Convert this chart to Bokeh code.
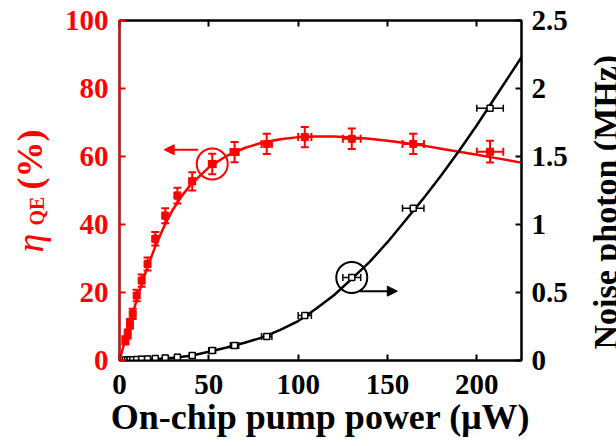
import math
from bokeh.plotting import figure
from bokeh.layouts import row
from bokeh.models import (Range1d, LinearAxis, FixedTicker, Label, Arrow, NormalHead,
                          Whisker, TeeHead, ColumnDataSource)
from bokeh.embed import file_html
from bokeh.resources import INLINE

# ---------------- data ----------------
power = [3.3, 4.6, 5.9, 7.4, 9.6, 12.4, 15.7, 20.0, 25.6, 32.4, 40.7, 51.9, 64.4, 82.4, 103.7, 130.0, 164.4, 207.4]
power_err = [0.2, 0.2, 0.3, 0.3, 0.4, 0.5, 0.6, 0.8, 1.0, 1.2, 1.5, 1.9, 2.3, 2.9, 3.7, 5.0, 6.0, 7.4]
eta = [5.9, 7.8, 10.8, 13.7, 19.1, 23.5, 28.4, 35.8, 42.6, 48.5, 52.7, 57.8, 61.3, 63.7, 65.7, 65.2, 63.7, 61.4]
eta_err = [1.2, 1.3, 1.4, 1.5, 1.7, 1.8, 1.9, 2.0, 2.2, 2.3, 2.7, 3.0, 3.0, 3.0, 3.0, 3.0, 3.0, 3.2]
noise = [0.003, 0.004, 0.005, 0.006, 0.007, 0.009, 0.011, 0.014, 0.018, 0.024, 0.037, 0.074, 0.11, 0.176, 0.33, 0.61, 1.12, 1.855]

eta_fit_x = [0, 5, 10, 15, 20, 25, 30, 35, 40, 50, 60, 70, 80, 90, 100, 110, 120, 130, 140, 150, 160, 170, 180, 190, 200, 210, 225]
eta_fit_y = [0, 9.5, 18.5, 26.5, 33.5, 39.5, 44.5, 48.5, 51.8, 56.8, 60.2, 62.5, 64.1, 65.1, 65.7, 65.9, 65.9, 65.6, 65.2, 64.6, 64.0, 63.2, 62.3, 61.4, 60.5, 59.6, 58.2]

noise_fit_x = [2, 10, 20, 30, 40, 50, 60, 70, 80, 90, 100, 110, 120, 130, 140, 150, 160, 170, 180, 190, 200, 210, 225]
noise_fit_y = [0.0, 0.003, 0.01, 0.02, 0.035, 0.065, 0.095, 0.13, 0.17, 0.225, 0.29, 0.38, 0.48, 0.6, 0.725, 0.87, 1.03, 1.19, 1.36, 1.54, 1.73, 1.93, 2.23]

x_ticks = [0, 50, 100, 150, 200]
eta_ticks = [0, 20, 40, 60, 80, 100]
noise_ticks = [0, 0.5, 1, 1.5, 2, 2.5]
noise_tick_labels = ["0", "0.5", "1", "1.5", "2", "2.5"]

eta_mark = 11      # circled red point
noise_mark = 15    # circled black point
eta_arrow = dict(x_start=44.0, x_end=25.0, y=62.0)
noise_arrow = dict(x_start=134.5, x_end=155.5, y=0.51)

x_title = "On-chip pump power (\u03bcW)"
eta_title = ["\u03b7", "QE", "(%)"]
noise_title = "Noise photon (MHz)"

FONT = "Liberation Serif"
RED = "#ff0000"
H = 446

src = ColumnDataSource(dict(
    power=power, eta=eta, noise=noise,
    p_lo=[a - b for a, b in zip(power, power_err)],
    p_hi=[a + b for a, b in zip(power, power_err)],
    e_lo=[a - b for a, b in zip(eta, eta_err)],
    e_hi=[a + b for a, b in zip(eta, eta_err)],
))

LEFT_W, RIGHT_W = 60, 46
MAIN_W = 616 - LEFT_W - RIGHT_W

p = figure(width=MAIN_W, height=H, x_range=Range1d(0, 225), y_range=Range1d(0, 100),
           output_backend="svg", toolbar_location=None,
           min_border_left=59, min_border_right=MAIN_W - 462, min_border_top=20, min_border_bottom=86)
p.extra_y_ranges = {"noise": Range1d(0, 2.5)}
p.xgrid.visible = False
p.ygrid.visible = False
p.outline_line_color = "black"
p.outline_line_width = 2


def style_axis(ax, color, standoff=11):
    ax.axis_line_color = color
    ax.axis_line_width = 2
    ax.major_tick_line_color = color
    ax.major_tick_line_width = 2
    ax.major_tick_in = 6
    ax.major_tick_out = 0
    ax.minor_tick_in = 0
    ax.minor_tick_out = 0
    ax.major_label_text_font = FONT
    ax.major_label_text_font_style = "bold"
    ax.major_label_text_font_size = "29px"
    ax.major_label_text_color = color
    ax.major_label_standoff = standoff


xa = p.xaxis[0]
xa.ticker = FixedTicker(ticks=x_ticks)
style_axis(xa, "black", standoff=14)
xa.axis_label = x_title
xa.axis_label_text_font = FONT
xa.axis_label_text_font_style = "bold"
xa.axis_label_text_font_size = "36px"
xa.axis_label_text_color = "black"
xa.axis_label_standoff = 0

ya = p.yaxis[0]
ya.ticker = FixedTicker(ticks=eta_ticks)
style_axis(ya, RED)

ra = LinearAxis(y_range_name="noise", ticker=FixedTicker(ticks=noise_ticks),
                major_label_overrides=dict(zip(noise_ticks, noise_tick_labels)))
style_axis(ra, "black", standoff=10)
p.add_layout(ra, "right")

ta = LinearAxis(ticker=FixedTicker(ticks=x_ticks),
                major_label_overrides={t: "" for t in x_ticks})
style_axis(ta, "black", standoff=0)
ta.major_label_text_font_size = "1px"
p.add_layout(ta, "above")

# fitted curves
p.line(eta_fit_x, eta_fit_y, line_color=RED, line_width=2.5)
p.line(noise_fit_x, noise_fit_y, line_color="black", line_width=2.5, y_range_name="noise")

# error bars
p.add_layout(Whisker(source=src, base="power", lower="e_lo", upper="e_hi", dimension="height",
                     line_color=RED, line_width=2,
                     lower_head=TeeHead(size=8, line_color=RED, line_width=2),
                     upper_head=TeeHead(size=8, line_color=RED, line_width=2)))
p.add_layout(Whisker(source=src, base="eta", lower="p_lo", upper="p_hi", dimension="width",
                     line_color=RED, line_width=2,
                     lower_head=TeeHead(size=8, line_color=RED, line_width=2),
                     upper_head=TeeHead(size=8, line_color=RED, line_width=2)))
p.add_layout(Whisker(source=src, base="noise", lower="p_lo", upper="p_hi", dimension="width",
                     y_range_name="noise", line_color="black", line_width=1.5,
                     lower_head=TeeHead(size=7, line_color="black", line_width=1.5),
                     upper_head=TeeHead(size=7, line_color="black", line_width=1.5)))

# markers
p.scatter("power", "eta", source=src, marker="square", size=7, fill_color=RED, line_color=RED)
p.scatter("power", "noise", source=src, marker="square", size=6, fill_color="white",
          line_color="black", line_width=1.5, y_range_name="noise")

# highlight circles
p.scatter([power[eta_mark]], [eta[eta_mark]], marker="circle", size=31, fill_color=None,
          line_color=RED, line_width=2)
p.scatter([power[noise_mark]], [noise[noise_mark]], marker="circle", size=31, fill_color=None,
          line_color="black", line_width=2, y_range_name="noise")

# arrows
p.add_layout(Arrow(end=NormalHead(size=10, fill_color=RED, line_color=RED),
                   x_start=eta_arrow["x_start"], y_start=eta_arrow["y"],
                   x_end=eta_arrow["x_end"], y_end=eta_arrow["y"],
                   line_color=RED, line_width=2))
p.add_layout(Arrow(end=NormalHead(size=10, fill_color="black", line_color="black"),
                   x_start=noise_arrow["x_start"], y_start=noise_arrow["y"],
                   x_end=noise_arrow["x_end"], y_end=noise_arrow["y"],
                   y_range_name="noise", line_color="black", line_width=2))


# ---------------- side panels for the vertical axis titles ----------------
# Their frames are aligned with the main frame (page y 20..360); ranges use page pixels.
def panel(w, x0):
    f = figure(width=w, height=H, x_range=Range1d(x0, x0 + w), y_range=Range1d(H - 360, H - 20),
               output_backend="svg", toolbar_location=None,
               x_axis_location=None, y_axis_location=None, min_border=0)
    f.outline_line_color = None
    for r in list(f.center):
        r.visible = False
    f.background_fill_color = "white"
    f.border_fill_color = "white"
    return f


def lab(f, text, x, page_y, size, color, style="bold", align="left"):
    f.add_layout(Label(x=x, y=H - page_y, text=text, angle=math.pi / 2,
                       text_font=FONT, text_font_size=size, text_font_style=style,
                       text_color=color, text_align=align, text_baseline="alphabetic"))


left = panel(LEFT_W, 0)
lab(left, eta_title[0], 29, 252, "38px", RED, style="italic")
lab(left, eta_title[1], 36, 225, "20px", RED)
lab(left, eta_title[2], 29, 189, "36px", RED)

right = panel(RIGHT_W, 616 - RIGHT_W)
lab(right, noise_title, 605, 349, "34px", "black")

layout = row(left, p, right)
open("out.html", "w").write(file_html(layout, INLINE))
